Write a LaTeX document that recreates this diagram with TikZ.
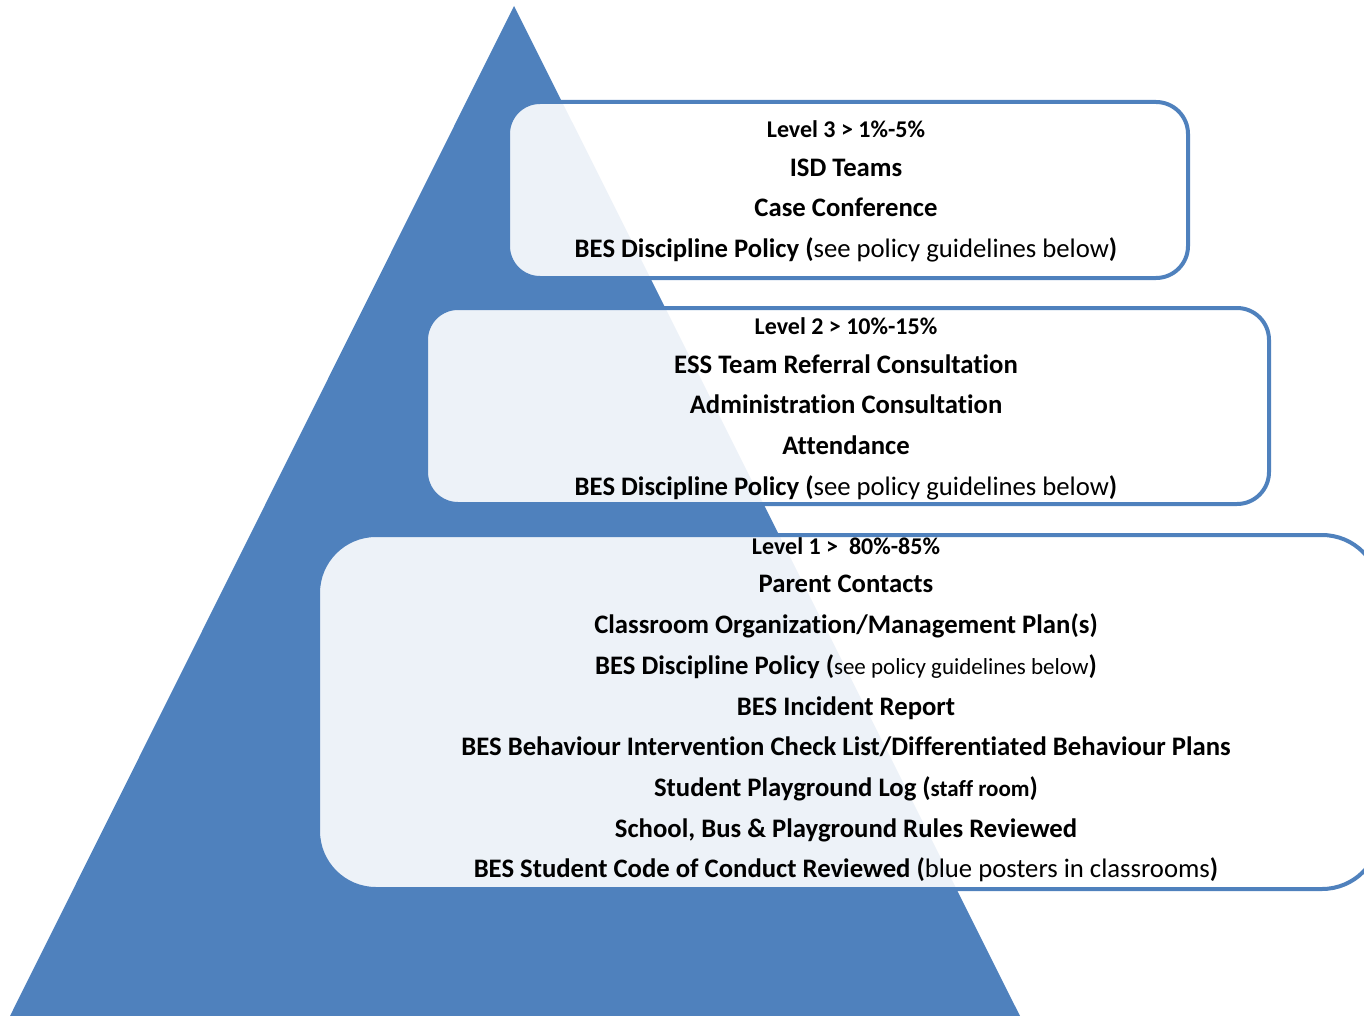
\documentclass[tikz,border=0pt]{standalone}
\usepackage{fontspec}
\setmainfont[Ligatures=NoCommon]{Carlito}
\definecolor{pyr}{HTML}{4F81BD}
\newcommand{\smallsz}{\fontsize{23}{26}\selectfont}
\begin{document}
\begin{tikzpicture}[x=1pt,y=-1pt,
  box/.style={draw=pyr, line width=4pt, fill=white, fill opacity=0.9},
  ln/.style={font=\bfseries\fontsize{26.7}{30}\selectfont, anchor=base, inner sep=0},
  lvl/.style={font=\bfseries\fontsize{24}{28}\selectfont, anchor=base, inner sep=0}]
\useasboundingbox (0,0) rectangle (1364,1016);
\clip (0,0) rectangle (1364,1016);
\fill[pyr] (514,6) -- (1020,1016) -- (10,1016) -- cycle;
% boxes
\draw[box, rounded corners=32pt] (508,102) rectangle (1188,278);
\draw[box, rounded corners=32pt] (426,308) rectangle (1269,504);
\draw[box, rounded corners=58pt] (318,535) rectangle (1380,889);
% level 3
\node[lvl] (l3a) at (846,138) {Level 3 > 1\%-5\%};
\node[ln] (l3b) at (846,177) {ISD Teams};
\node[ln] (l3c) at (846,217) {Case Conference};
\node[ln] (l3d) at (846,258) {BES Discipline Policy (\mdseries see policy guidelines below\bfseries)};
% level 2
\node[lvl] (l2a) at (846,334) {Level 2 > 10\%-15\%};
\node[ln] (l2b) at (846,373) {ESS Team Referral Consultation};
\node[ln] (l2c) at (846,413) {Administration Consultation};
\node[ln] (l2d) at (846,454) {Attendance};
\node[ln] (l2e) at (846,495) {BES Discipline Policy (\mdseries see policy guidelines below\bfseries)};
% level 1
\node[lvl] (l1a) at (846,554) {Level 1 >\ \ 80\%-85\%};
\node[ln] (l1b) at (846,592) {Parent Contacts};
\node[ln] (l1c) at (846,633) {Classroom Organization/Management Plan(s)};
\node[ln] (l1d) at (846,674) {BES Discipline Policy ({\mdseries\smallsz see policy guidelines below})};
\node[ln] (l1e) at (846,715) {BES Incident Report};
\node[ln] (l1f) at (846,755) {BES Behaviour Intervention Check List/Differentiated Behaviour Plans};
\node[ln] (l1g) at (846,796) {Student Playground Log ({\smallsz staff room})};
\node[ln] (l1h) at (846,837) {School, Bus \& Playground Rules Reviewed};
\node[ln] (l1i) at (846,877) {BES Student Code of Conduct Reviewed (\mdseries blue posters in classrooms\bfseries)};
\end{tikzpicture}
\end{document}
